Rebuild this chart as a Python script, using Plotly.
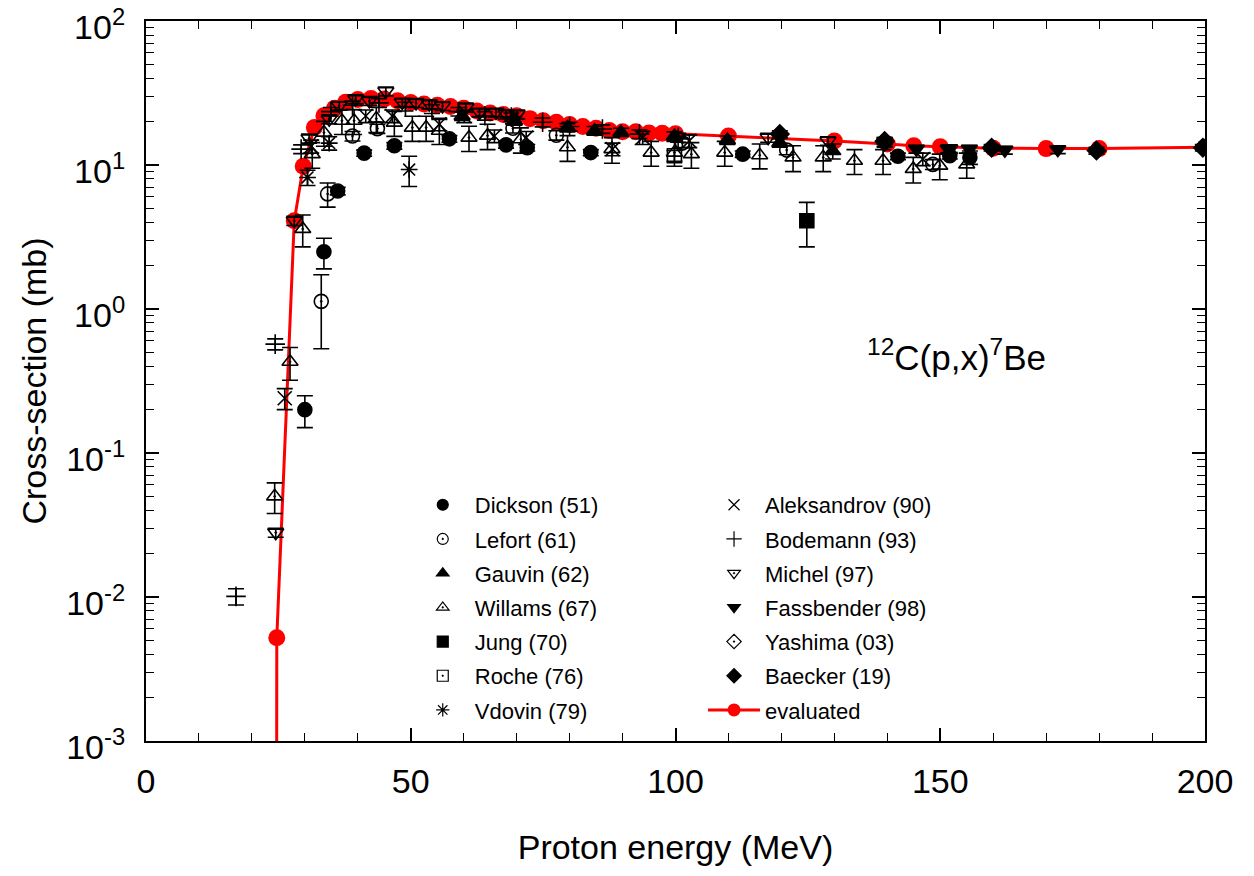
import plotly.graph_objects as go

FONT = "Liberation Sans, Arial, sans-serif"

# ---------------- data (MeV, mb) ----------------
dickson_x = [30.0, 33.6, 36.2, 41.2, 46.9, 57.3, 68.0, 72.0, 84.0, 112.7, 142.0, 151.8, 155.6]
dickson_y = [0.20, 2.5, 6.6, 12.1, 13.6, 15.2, 13.8, 13.2, 12.2, 11.9, 11.5, 11.6, 11.3]
dickson_e = [0.05, 0.6, 0.4, 0.6, 0.7, 0.8, 0.7, 0.7, 0.6, 0.6, 0.6, 0.6, 1.2]

lefort_x = [33.1, 34.3, 39.0, 43.7, 69.3, 77.5, 101.3, 121.0, 148.6]
lefort_y = [1.13, 6.3, 15.9, 17.9, 18.0, 16.1, 14.2, 12.7, 10.1]
lefort_e = [0.6, 1.2, 1.2, 1.3, 1.3, 1.2, 1.0, 0.9, 0.8]

gauvin_x = [59.7, 69.6, 79.6, 84.7, 89.7, 99.8, 109.8, 119.7, 129.7]
gauvin_y = [21.9, 20.3, 18.2, 17.3, 16.9, 15.9, 14.9, 14.3, 12.5]
gauvin_e = [1.5, 1.4, 1.2, 1.2, 1.1, 1.1, 1.0, 1.0, 1.5]

willams_x = [24.3, 27.2, 29.6, 31.4, 33.6, 37.0, 39.3, 43.5, 46.9, 50.3, 52.9, 55.4, 61.0, 64.5,
             70.8, 79.6, 88.0, 95.4, 99.8, 103.0, 109.3, 115.9, 122.2, 127.9, 133.8, 139.2,
             144.9, 149.9, 155.0]
willams_y = [0.050, 0.43, 3.6, 11.9, 16.8, 20.3, 20.3, 21.0, 19.7, 18.2, 18.2, 17.3, 15.5, 16.0,
             15.1, 13.3, 12.9, 12.2, 12.2, 11.9, 12.2, 11.7, 11.3, 11.3, 10.7, 10.7,
             9.4, 9.9, 10.1]
willams_e = [0.012, 0.11, 0.9, 2.4, 3.3, 4.0, 4.0, 4.2, 3.9, 3.6, 3.6, 3.4, 3.1, 3.2,
             3.0, 2.7, 2.6, 2.4, 2.4, 2.4, 2.4, 2.3, 2.3, 2.3, 2.1, 2.1,
             1.9, 2.0, 2.0]

jung_x = [124.8]
jung_y = [4.1]
jung_e = [1.4]

roche_x = [99.8]
roche_y = [11.6]
roche_e = [1.0]

vdovin_x = [30.5, 34.6, 49.7]
vdovin_y = [8.2, 14.2, 9.3]
vdovin_e = [1.0, 1.5, 2.2]

aleks_x = [26.2, 31.2, 41.5, 46.5, 55.4, 60.1, 65.8, 71.8, 88.1, 93.8, 102.6, 146.7]
aleks_y = [0.24, 13.5, 21.9, 21.9, 19.2, 21.9, 15.9, 15.5, 12.9, 15.5, 14.7, 11.0]
aleks_e = [0.04, 1.4, 2.2, 2.2, 1.9, 2.2, 1.6, 1.6, 1.3, 1.6, 1.5, 1.1]

bode_x = [17.0, 24.4, 29.3, 34.9, 39.0, 44.0, 49.0, 54.0, 59.0, 64.0, 69.0, 74.9, 80.0, 86.2, 93.2, 100.5]
bode_y = [0.0101, 0.57, 12.9, 23.5, 26.0, 27.0, 25.5, 24.5, 23.5, 22.0, 21.5, 19.8, 18.5, 17.8, 16.4, 15.5]
bode_e = [0.0013, 0.05, 0.9, 1.6, 1.8, 1.9, 1.8, 1.7, 1.6, 1.5, 1.5, 1.4, 1.3, 1.2, 1.1, 1.1]

michel_x = [24.5, 28.0, 30.8, 34.6, 36.5, 39.6, 42.2, 45.3, 48.4, 51.0, 53.5, 56.0, 60.4, 63.0,
            66.1, 68.0, 70.1, 117.5, 128.8, 139.5, 151.8]
michel_y = [0.028, 4.1, 15.3, 20.8, 25.8, 28.7, 27.9, 32.5, 27.2, 27.0, 26.5, 25.7, 25.1, 23.2,
            23.2, 22.5, 22.5, 15.5, 14.7, 14.3, 12.9]
michel_e = [0.002, 0.3, 1.1, 1.5, 1.8, 2.0, 2.0, 2.3, 1.9, 1.9, 1.9, 1.8, 1.8, 1.6,
            1.6, 1.6, 1.6, 1.1, 1.0, 1.0, 0.9]

fass_x = [145.5, 151.5, 155.5, 162.2, 172.2]
fass_y = [12.9, 12.9, 12.9, 12.7, 12.8]
fass_e = [0.8, 0.8, 0.8, 0.8, 0.8]

yash_x = [139.5]
yash_y = [14.5]
yash_e = [1.0]

baecker_x = [119.7, 139.5, 159.7, 179.5, 199.6]
baecker_y = [16.4, 14.7, 13.2, 12.6, 13.2]
baecker_e = [0.9, 0.8, 0.7, 0.7, 0.7]

eval_x = [24.6, 24.7, 28.0, 29.7, 31.8, 33.6, 35.6, 37.7, 40.0, 42.5, 45.0, 47.5, 50.0, 52.5,
          55.0, 57.5, 60.0, 62.5, 65.0, 67.5, 70.0, 72.5, 75.0, 77.5, 80.0, 82.5, 85.0, 87.5,
          90.0, 92.5, 95.0, 97.5, 100.0, 110.0, 130.0, 140.0, 145.0, 150.0, 160.0, 170.0,
          180.0, 200.0]
eval_y = [1e-6, 0.0052, 4.1, 9.8, 18.2, 22.0, 24.8, 27.3, 28.5, 29.0, 28.7, 28.0, 27.2, 26.5,
          26.0, 25.5, 24.8, 23.7, 23.0, 22.4, 22.0, 21.0, 20.3, 19.8, 19.1, 18.5, 18.0, 17.4,
          17.0, 17.0, 16.7, 16.6, 16.5, 15.9, 14.7, 14.0, 13.6, 13.4, 13.1, 13.0,
          13.0, 13.3]

series = [
    ("Dickson (51)", dickson_x, dickson_y, dickson_e, "circle", "legend"),
    ("Lefort (61)", lefort_x, lefort_y, lefort_e, "circle-open-dot", "legend"),
    ("Gauvin (62)", gauvin_x, gauvin_y, gauvin_e, "triangle-up", "legend"),
    ("Willams (67)", willams_x, willams_y, willams_e, "triangle-up-open-dot", "legend"),
    ("Jung (70)", jung_x, jung_y, jung_e, "square", "legend"),
    ("Roche (76)", roche_x, roche_y, roche_e, "square-open-dot", "legend"),
    ("Vdovin (79)", vdovin_x, vdovin_y, vdovin_e, "asterisk-open", "legend"),
    ("Aleksandrov (90)", aleks_x, aleks_y, aleks_e, "x-thin-open", "legend2"),
    ("Bodemann (93)", bode_x, bode_y, bode_e, "cross-thin-open", "legend2"),
    ("Michel (97)", michel_x, michel_y, michel_e, "triangle-down-open-dot", "legend2"),
    ("Fassbender (98)", fass_x, fass_y, fass_e, "triangle-down", "legend2"),
    ("Yashima (03)", yash_x, yash_y, yash_e, "diamond-open-dot", "legend2"),
    ("Baecker (19)", baecker_x, baecker_y, baecker_e, "diamond", "legend2"),
]

fig = go.Figure()

# evaluated curve underneath the data
fig.add_trace(go.Scatter(
    x=eval_x, y=eval_y, mode="lines+markers", showlegend=False,
    line=dict(color="#ff0000", width=3),
    marker=dict(color="#ff0000", size=17, line=dict(width=0)),
))

for name, xs, ys, es, sym, lg in series:
    fig.add_trace(go.Scatter(
        x=xs, y=ys, mode="markers", showlegend=False, name=name,
        marker=dict(symbol=sym, size=14, color="black", line=dict(color="black", width=1.6)),
        error_y=dict(type="data", array=es, visible=True, color="black", thickness=1.6, width=8),
    ))

# legend entries (smaller symbols, like the reference key)
rank = 1
for name, xs, ys, es, sym, lg in series:
    fig.add_trace(go.Scatter(
        x=[None], y=[None], mode="markers", name=name, legend=lg, legendrank=rank,
        legendgroup=name,
        marker=dict(symbol=sym, size=11, color="black", line=dict(color="black", width=1.2)),
    ))
    rank += 1
fig.add_trace(go.Scatter(
    x=[None], y=[None], mode="lines+markers", name="evaluated", legend="legend2",
    legendrank=rank, legendgroup="evaluated",
    line=dict(color="#ff0000", width=3), marker=dict(color="#ff0000", size=13),
))

minor_y = []
for p in range(-3, 2):
    for m in range(2, 10):
        minor_y.append(m * 10 ** p)

major_y = [1e-3, 1e-2, 1e-1, 1, 10, 100]
major_y_text = ["10<sup>-3</sup>", "10<sup>-2</sup>", "10<sup>-1</sup>", "10<sup>0</sup>",
                "10<sup>1</sup>", "10<sup>2</sup>"]

fig.update_layout(
    width=1254, height=876,
    margin=dict(l=146, r=49, t=21, b=135, autoexpand=False),
    paper_bgcolor="white", plot_bgcolor="white",
    font=dict(family=FONT, color="black"),
    xaxis=dict(
        range=[0, 200], tickmode="array", tickvals=[0, 50, 100, 150, 200],
        ticks="inside", ticklen=13, tickwidth=1.5, tickcolor="black",
        minor=dict(ticks="inside", ticklen=8, tickwidth=1.2, tickcolor="black", dtick=10, showgrid=False),
        showline=True, linewidth=2, linecolor="black", mirror="ticks",
        showgrid=False, zeroline=False, ticklabeloverflow="allow", automargin=False,
        tickfont=dict(size=34, family=FONT), ticklabelstandoff=9,
        title=dict(text="Proton energy (MeV)", font=dict(size=34, family=FONT), standoff=36),
    ),
    yaxis=dict(
        type="log", range=[-3.0003, 2.0003], tickmode="array", tickvals=major_y, ticktext=major_y_text,
        ticks="inside", ticklen=13, tickwidth=1.5, tickcolor="black",
        minor=dict(ticks="inside", ticklen=8, tickwidth=1.2, tickcolor="black",
                   tickmode="array", tickvals=minor_y, showgrid=False),
        showline=True, linewidth=2, linecolor="black", mirror="ticks",
        showgrid=False, zeroline=False, ticklabeloverflow="allow", automargin=False,
        tickfont=dict(size=34, family=FONT), ticklabelstandoff=12, ticklabelshift=6,
        title=dict(text="Cross-section (mb)", font=dict(size=34, family=FONT), standoff=9),
    ),
    legend=dict(
        x=0.250, y=0.357, xanchor="left", yanchor="top",
        bgcolor="rgba(0,0,0,0)", borderwidth=0,
        font=dict(size=22, family=FONT), traceorder="grouped", tracegroupgap=2.6,
        itemwidth=54,
    ),
    legend2=dict(
        x=0.526, y=0.357, xanchor="left", yanchor="top",
        bgcolor="rgba(0,0,0,0)", borderwidth=0,
        font=dict(size=22, family=FONT), traceorder="grouped", tracegroupgap=2.6,
        itemwidth=52,
    ),
    annotations=[dict(
        x=0.679, y=0.536, xref="paper", yref="paper", xanchor="left", yanchor="middle",
        text="<sup>12</sup>C(p,x)<sup>7</sup>Be", showarrow=False,
        font=dict(size=35, family=FONT, color="black"),
    )],
)

fig.write_html("out.html")
